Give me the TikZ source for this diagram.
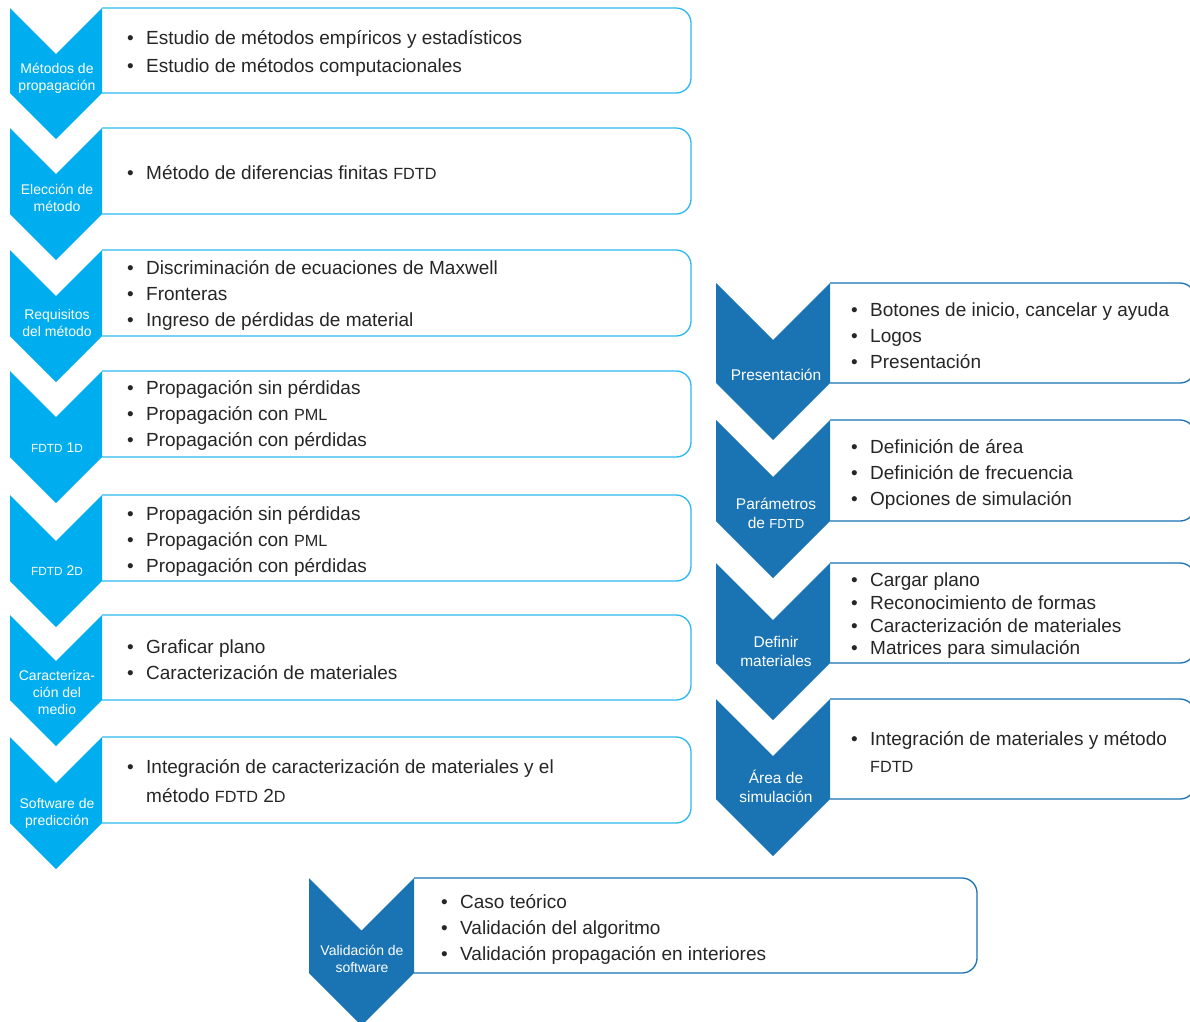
\documentclass[tikz,border=0pt]{standalone}
\usepackage{fontspec}
\setmainfont{Liberation Sans}
\definecolor{cyanL}{HTML}{00AEEF}
\definecolor{cyanB}{HTML}{2CB9F2}
\definecolor{blueR}{HTML}{1A73B3}
\definecolor{txt}{HTML}{262626}
\newcommand\itm[1]{\makebox[19pt][l]{•}#1}
\newcommand\hang[1]{\makebox[19pt][l]{}#1}
\newcommand\smc[1]{{\fontsize{16.2}{16.2}\selectfont #1}}
\newcommand\smcl[1]{{\fontsize{11.8}{11.8}\selectfont #1}}
\newcommand\smcr[1]{{\fontsize{13.1}{13.1}\selectfont #1}}
% chevron: xl, xr, top, bottom, colour
\newcommand\Chev[5]{%
  \fill[#5] (#1,#3) -- ({(#1+#2)/2},{#3+(#2-#1)/2}) -- (#2,#3) -- (#2,#4)
    -- ({(#1+#2)/2},{#4+(#2-#1)/2}) -- (#1,#4) -- cycle;}
% box: xl, xr, top, bottom, colour
\newcommand\StageBox[5]{%
  \draw[#5, line width=1.3pt, rounded corners=15pt, fill=white]
    (#1,#3) -- (#2,#3) -- (#2,#4) -- (#1,#4);}
\tikzset{
  body/.style={anchor=west, inner sep=0pt, align=left, text=txt},
  lblL/.style={inner sep=0pt, align=center, text=white, font=\fontsize{14}{16.8}\selectfont},
  lblR/.style={inner sep=0pt, align=center, text=white, font=\fontsize{15.5}{19}\selectfont},
}
\begin{document}
\begin{tikzpicture}[x=1pt,y=-1pt]
\useasboundingbox (0,0) rectangle (1190,1021);
\clip (0,0) rectangle (1190,1021);
\fill[white] (0,0) rectangle (1190,1021);

% ---------- left column ----------
\StageBox{102}{691}{8}{93}{cyanB}
\Chev{10}{102}{8}{93}{cyanL}
\node[lblL] (l1) at (57,78) {Métodos de\\propagación};
\node[body, font=\fontsize{19}{28}\selectfont] (b1) at (127,53)
  {\itm{Estudio de métodos empíricos y estadísticos}\\\itm{Estudio de métodos computacionales}};

\StageBox{102}{691}{128}{214}{cyanB}
\Chev{10}{102}{128}{214}{cyanL}
\node[lblL] (l2) at (57,198) {Elección de\\método};
\node[body, font=\fontsize{19}{26}\selectfont] (b2) at (127,173)
  {\itm{Método de diferencias finitas \smc{FDTD}}};

\StageBox{102}{691}{250}{336}{cyanB}
\Chev{10}{102}{250}{336}{cyanL}
\node[lblL] (l3) at (57,323) {Requisitos\\del método};
\node[body, font=\fontsize{19}{26}\selectfont] (b3) at (127,295)
  {\itm{Discriminación de ecuaciones de Maxwell}\\\itm{Fronteras}\\\itm{Ingreso de pérdidas de material}};

\StageBox{102}{691}{371}{457}{cyanB}
\Chev{10}{102}{371}{457}{cyanL}
\node[lblL] (l4) at (57,448) {\smcl{FDTD} 1\smcl{D}};
\node[body, font=\fontsize{19}{26}\selectfont] (b4) at (127,415)
  {\itm{Propagación sin pérdidas}\\\itm{Propagación con \smc{PML}}\\\itm{Propagación con pérdidas}};

\StageBox{102}{691}{495}{581}{cyanB}
\Chev{10}{102}{495}{581}{cyanL}
\node[lblL] (l5) at (57,571) {\smcl{FDTD} 2\smcl{D}};
\node[body, font=\fontsize{19}{26}\selectfont] (b5) at (127,541)
  {\itm{Propagación sin pérdidas}\\\itm{Propagación con \smc{PML}}\\\itm{Propagación con pérdidas}};

\StageBox{102}{691}{615}{700}{cyanB}
\Chev{10}{102}{615}{700}{cyanL}
\node[lblL] (l6) at (57,692.5) {Caracteriza-\\ción del\\medio};
\node[body, font=\fontsize{19}{26}\selectfont] (b6) at (127,660)
  {\itm{Graficar plano}\\\itm{Caracterización de materiales}};

\StageBox{102}{691}{737}{823}{cyanB}
\Chev{10}{102}{737}{823}{cyanL}
\node[lblL] (l7) at (57,813.5) {Software de\\predicción};
\node[body, font=\fontsize{19}{29}\selectfont] (b7) at (127,781)
  {\itm{Integración de caracterización de materiales y el}\\\hang{método \smc{FDTD} 2\smc{D}}};

% ---------- right column ----------
\StageBox{830}{1195}{283}{383}{blueR}
\Chev{716}{830}{283}{383}{blueR}
\node[lblR] (r1) at (776,375) {Presentación};
\node[body, font=\fontsize{19}{26}\selectfont] (c1) at (851,335.5)
  {\itm{Botones de inicio, cancelar y ayuda}\\\itm{Logos}\\\itm{Presentación}};

\StageBox{830}{1195}{420}{521}{blueR}
\Chev{716}{830}{420}{521}{blueR}
\node[lblR] (r2) at (776,513.5) {Parámetros\\de \smcr{FDTD}};
\node[body, font=\fontsize{19}{26}\selectfont] (c2) at (851,474)
  {\itm{Definición de área}\\\itm{Definición de frecuencia}\\\itm{Opciones de simulación}};

\StageBox{830}{1195}{563}{663}{blueR}
\Chev{716}{830}{563}{663}{blueR}
\node[lblR] (r3) at (776,651.5) {Definir\\materiales};
\node[body, font=\fontsize{19}{22.7}\selectfont] (c3) at (851,616)
  {\itm{Cargar plano}\\\itm{Reconocimiento de formas}\\\itm{Caracterización de materiales}\\\itm{Matrices para simulación}};

\StageBox{830}{1195}{699}{799}{blueR}
\Chev{716}{830}{699}{799}{blueR}
\node[lblR] (r4) at (776,786.5) {Área de\\simulación};
\node[body, font=\fontsize{19}{27}\selectfont] (c4) at (851,751.5)
  {\itm{Integración de materiales y método}\\\hang{\smc{FDTD}}};

% ---------- bottom ----------
\StageBox{414}{977}{878}{973}{blueR}
\Chev{309}{414}{878}{973}{blueR}
\node[lblL] (v1) at (362,959) {Validación de\\software};
\node[body, font=\fontsize{19}{26}\selectfont] (w1) at (441,929)
  {\itm{Caso teórico}\\\itm{Validación del algoritmo}\\\itm{Validación propagación en interiores}};
\end{tikzpicture}
\end{document}
